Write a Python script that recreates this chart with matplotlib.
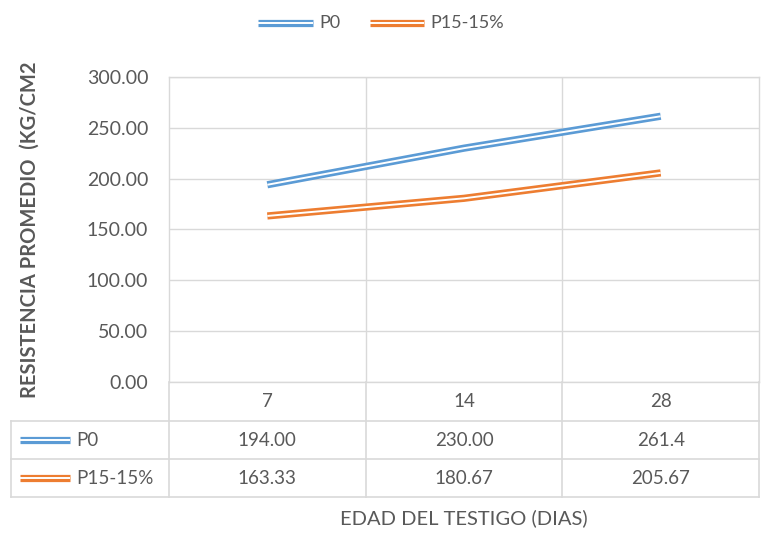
import matplotlib
matplotlib.use("Agg")
import matplotlib.pyplot as plt
from matplotlib.lines import Line2D
from matplotlib import transforms

plt.rcParams['font.family'] = ['Lato', 'DejaVu Sans']

categories = ["7", "14", "28"]
series_names = ["P0", "P15-15%"]
p0 = [194.00, 230.00, 261.4]
p15 = [163.33, 180.67, 205.67]
p0_labels = ["194.00", "230.00", "261.4"]
p15_labels = ["163.33", "180.67", "205.67"]
yticks = [0, 50, 100, 150, 200, 250, 300]

BLUE = "#5B9BD5"
ORANGE = "#ED7D31"
GRID = "#D9D9D9"
TXT = "#595959"
LW_OUT, LW_IN = 5.2, 1.4

W, H = 774, 547
fig = plt.figure(figsize=(W / 100, H / 100), dpi=100)

def fx(px):
    return px / W

def fy(py):
    return 1 - py / H

L, R, T, B = 169, 759, 77, 382
ax = fig.add_axes([fx(L), fy(B), fx(R - L), (B - T) / H])
x = list(range(len(categories)))

for vals, col in [(p0, BLUE), (p15, ORANGE)]:
    ax.plot(x, vals, color=col, lw=LW_OUT, solid_capstyle='butt', zorder=3)
    ax.plot(x, vals, color="white", lw=LW_IN, solid_capstyle='butt', zorder=4)

ax.set_xlim(-0.5, 2.5)
ax.set_ylim(0, 300)
ax.set_yticks(yticks)
ax.set_yticklabels([f"{v:.2f}" for v in yticks], color=TXT, fontsize=14)
ax.set_xticks([0.5, 1.5])
ax.set_xticklabels([])
ax.tick_params(axis='both', length=0, pad=15)
ax.grid(True, color=GRID, lw=1)
for s in ax.spines.values():
    s.set_color(GRID)
    s.set_linewidth(1)

fig.text(fx(30), fy(230), "RESISTENCIA PROMEDIO  (KG/CM2", rotation=90,
         fontsize=14.5, fontweight='bold', color=TXT, ha='center', va='center')

def dbl_line(x0, x1, yc, col):
    fig.add_artist(Line2D([fx(x0), fx(x1)], [yc, yc], color=col, lw=LW_OUT,
                          solid_capstyle='butt'))
    fig.add_artist(Line2D([fx(x0), fx(x1)], [yc, yc], color="white", lw=LW_IN,
                          solid_capstyle='butt'))

# Data table
def hline(y, x0, x1):
    fig.add_artist(Line2D([fx(x0), fx(x1)], [fy(y), fy(y)], color=GRID, lw=1.2))

def vline(xp, y0, y1):
    fig.add_artist(Line2D([fx(xp), fx(xp)], [fy(y0), fy(y1)], color=GRID, lw=1.2))

rows = [382, 421, 459, 497]
for y in rows[1:]:
    hline(y, 11, R)
for xp in [L, 366, 562, R]:
    vline(xp, B, rows[-1])
vline(11, rows[1], rows[-1])

blend = transforms.blended_transform_factory(ax.transData, fig.transFigure)
for i, c in enumerate(categories):
    fig.text(i, fy((rows[0] + rows[1]) / 2), c, transform=blend, ha='center',
             va='center', color=TXT, fontsize=13.5)
for r, (labs, col, name) in enumerate([(p0_labels, BLUE, series_names[0]),
                                       (p15_labels, ORANGE, series_names[1])]):
    yc = fy((rows[r + 1] + rows[r + 2]) / 2)
    for i, t in enumerate(labs):
        fig.text(i, yc, t, transform=blend, ha='center', va='center',
                 color=TXT, fontsize=13.5)
    dbl_line(20, 70, yc, col)
    fig.text(fx(76), yc, name, ha='left', va='center', color=TXT, fontsize=13.5)

fig.text(fx(464), fy(518), "EDAD DEL TESTIGO (DIAS)", ha='center', va='center',
         color=TXT, fontsize=14.5)

# Legend
ly = fy(23)
dbl_line(258, 313, ly, BLUE)
fig.text(fx(319), ly, series_names[0], ha='left', va='center', color=TXT, fontsize=13)
dbl_line(370, 424, ly, ORANGE)
fig.text(fx(430), ly, series_names[1], ha='left', va='center', color=TXT, fontsize=13)

fig.savefig("out.png", dpi=100, facecolor="white")
